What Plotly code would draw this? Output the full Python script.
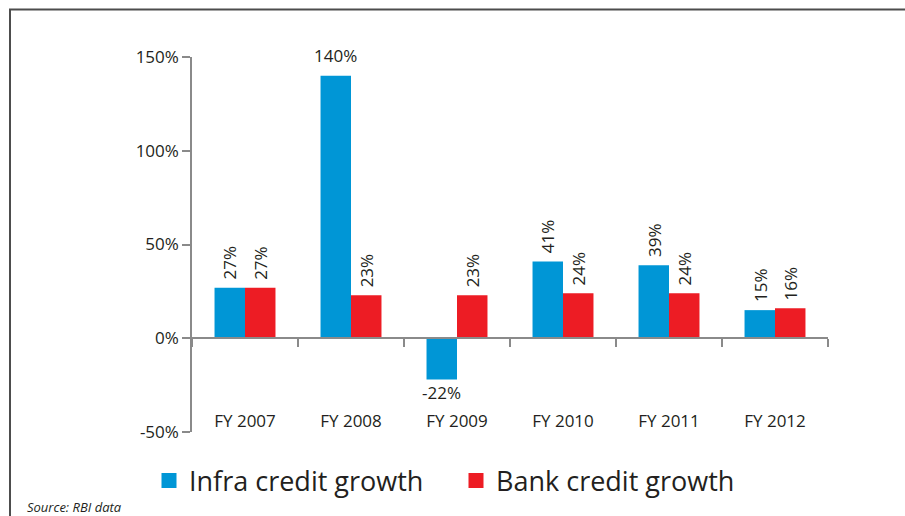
import plotly.graph_objects as go

# Fiscal years and growth rates (%)
years = ["FY 2007", "FY 2008", "FY 2009", "FY 2010", "FY 2011", "FY 2012"]
infra_growth = [27, 140, -22, 41, 39, 15]
bank_growth = [27, 23, 23, 24, 24, 16]
y_ticks = [-50, 0, 50, 100, 150]
y_tick_text = ["-50%", "0%", "50%", "100%", "150%"]
source_note = "Source: RBI data"

BLUE = "#0096d6"
RED = "#ed1c24"
TEXT = "#231f20"
AXIS = "#8a8a8a"
FONT = "Open Sans"

W, H = 905, 516
L, R, T, B = 192, 77, 57, 84
plot_w = W - L - R
plot_h = H - T - B
y_min, y_max = -50, 150
bargap = 0.425
bar_w_px = plot_w / len(years) * (1 - bargap) / 2


def px_to_paper_x(px):
    return (px - L) / plot_w


def px_to_paper_y(py):
    return (H - B - py) / plot_h


fig = go.Figure()
fig.add_bar(x=years, y=infra_growth, name="Infra credit growth",
            marker=dict(color=BLUE, line=dict(width=0)), showlegend=False)
fig.add_bar(x=years, y=bank_growth, name="Bank credit growth",
            marker=dict(color=RED, line=dict(width=0)), showlegend=False)

# legend entries with square swatches
for name, color in [("Infra credit growth", BLUE), ("Bank credit growth", RED)]:
    fig.add_scatter(x=[None], y=[None], mode="markers", name=name,
                    marker=dict(symbol="square", size=15, color=color))

# value labels above/below each bar
label_font = dict(size=17, color=TEXT, family=FONT)
annotations = []
for series, shift in [(infra_growth, -bar_w_px / 2), (bank_growth, bar_w_px / 2)]:
    for cat, v in zip(years, series):
        label = f"{v}%"
        if v >= 100:
            annotations.append(dict(x=cat, y=v, text=label, showarrow=False,
                                    xshift=shift, yanchor="bottom", yshift=7,
                                    font=label_font))
        elif v < 0:
            annotations.append(dict(x=cat, y=v, text=label, showarrow=False,
                                    xshift=shift, yanchor="top", yshift=1,
                                    font=label_font))
        else:
            annotations.append(dict(x=cat, y=v, text=label, showarrow=False,
                                    xshift=shift, yanchor="bottom", yshift=6,
                                    textangle=-90, font=label_font))

annotations.append(dict(xref="paper", yref="paper",
                        x=px_to_paper_x(25), y=px_to_paper_y(507),
                        xanchor="left", yanchor="middle", showarrow=False,
                        text=f"<i>{source_note}</i>",
                        font=dict(size=13, color=TEXT, family=FONT)))

# outer frame
shapes = [dict(type="rect", xref="paper", yref="paper",
               x0=px_to_paper_x(10), x1=px_to_paper_x(915),
               y0=px_to_paper_y(530), y1=px_to_paper_y(9.5),
               line=dict(color="#4d4d4d", width=2), layer="below")]

fig.update_layout(
    width=W, height=H,
    margin=dict(l=L, r=R, t=T, b=B, autoexpand=False),
    paper_bgcolor="white", plot_bgcolor="white",
    barmode="group", bargap=bargap, bargroupgap=0,
    font=dict(family=FONT, color=TEXT),
    showlegend=True,
    legend=dict(orientation="h", x=px_to_paper_x(456), xanchor="center",
                y=px_to_paper_y(481), yanchor="middle",
                font=dict(size=27, color=TEXT, family=FONT),
                itemwidth=30, entrywidth=262, entrywidthmode="pixels",
                bgcolor="rgba(0,0,0,0)"),
    annotations=annotations,
    shapes=shapes,
)

fig.update_xaxes(
    type="category", categoryorder="array", categoryarray=years,
    range=[-0.5, len(years) - 0.5],
    anchor="free", position=(0 - y_min) / (y_max - y_min),
    showline=True, linecolor=AXIS, linewidth=1.5,
    ticks="outside", tickson="boundaries", ticklen=8, tickwidth=1.5, tickcolor=AXIS,
    ticklabelstandoff=68,
    tickfont=dict(size=17, color=TEXT, family=FONT),
    showgrid=False, zeroline=False, fixedrange=True,
)
fig.update_yaxes(
    range=[y_min, y_max], tickvals=y_ticks, ticktext=y_tick_text,
    showline=True, linecolor=AXIS, linewidth=1.5,
    ticks="outside", ticklen=8, tickwidth=1.5, tickcolor=AXIS,
    tickfont=dict(size=17, color=TEXT, family=FONT),
    showgrid=False, zeroline=False, fixedrange=True,
)

fig.write_html("out.html")
